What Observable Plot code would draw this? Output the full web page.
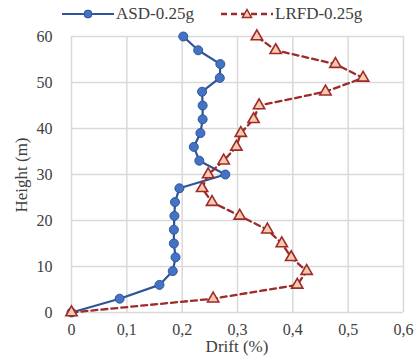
<!DOCTYPE html>
<html>
<head>
<meta charset="utf-8">
<script src="https://cdn.jsdelivr.net/npm/d3@7"></script>
<script src="https://cdn.jsdelivr.net/npm/@observablehq/plot@0.6"></script>
<style>
  html, body { margin: 0; padding: 0; background: #fff; }
  #wrap { width: 416px; height: 360px; position: relative; font-family: "Liberation Serif", "DejaVu Serif", serif; color: #404040; }
  #legend { height: 28px; position: relative; font-size: 17px; }
  .item { position: absolute; top: 4px; display: flex; align-items: center; white-space: nowrap; }
  .item svg { display: block; margin-right: 2px; }
  #chart svg, #chart svg text { font-family: "Liberation Serif", serif !important; }
  #chart svg text { font-size: 16px; fill: #404040; }
  #xlabel { position: absolute; left: 71px; width: 332px; top: 337px; text-align: center; font-size: 17px; line-height: 20px; }
  #ylabel { position: absolute; left: 22px; top: 175px; font-size: 17px; line-height: 20px; white-space: nowrap; transform: translate(-50%, -50%) rotate(-90deg); }
</style>
</head>
<body>
<div id="wrap">
  <div id="legend"></div>
  <div id="chart"></div>
  <div id="xlabel"></div>
  <div id="ylabel"></div>
</div>
<script>
// Data
const heights = [0, 3, 6, 9, 12, 15, 18, 21, 24, 27, 30, 33, 36, 39, 42, 45, 48, 51, 54, 57, 60];
const asdDrift = [0, 0.087, 0.159, 0.183, 0.188, 0.185, 0.185, 0.186, 0.187, 0.195, 0.278, 0.231, 0.221, 0.233, 0.237, 0.237, 0.236, 0.268, 0.269, 0.229, 0.202];
const lrfdDrift = [0, 0.256, 0.408, 0.425, 0.397, 0.380, 0.354, 0.304, 0.254, 0.236, 0.247, 0.275, 0.298, 0.306, 0.329, 0.339, 0.459, 0.527, 0.477, 0.369, 0.335];
const seriesNames = ["ASD-0.25g", "LRFD-0.25g"];
const xTicks = [0, 0.1, 0.2, 0.3, 0.4, 0.5, 0.6];
const yTicks = [0, 10, 20, 30, 40, 50, 60];
const xLabel = "Drift (%)";
const yLabel = "Height (m)";

const asd = heights.map((h, i) => ({h, d: asdDrift[i]}));
const lrfd = heights.map((h, i) => ({h, d: lrfdDrift[i]}));

const blueLine = "#2F5597", blueFill = "#4472C4";
const redLine = "#9E2A2B", redFill = "#F8CBAD";

const fmt = d => d === 0 ? "0" : d.toFixed(1).replace(".", ",");

const chart = Plot.plot({
  width: 416,
  height: 332,
  marginTop: 8,
  marginLeft: 71,
  marginRight: 13,
  marginBottom: 48,
  style: {fontFamily: "'Liberation Serif', serif", fontSize: "16px", color: "#404040", background: "#fff"},
  x: {domain: [0, 0.6], ticks: xTicks, tickFormat: fmt, tickSize: 0, tickPadding: 11, label: null},
  y: {domain: [0, 60], ticks: yTicks, tickSize: 0, tickPadding: 19, label: null},
  marks: [
    Plot.gridX(xTicks, {stroke: "#d9d9d9", strokeOpacity: 1, strokeWidth: 1.5}),
    Plot.gridY(yTicks, {stroke: "#d9d9d9", strokeOpacity: 1, strokeWidth: 1.5}),
    Plot.line(asd, {x: "d", y: "h", stroke: blueLine, strokeWidth: 2.2}),
    Plot.dot(asd, {x: "d", y: "h", r: 4.5, fill: blueFill, stroke: blueLine, strokeWidth: 1}),
    Plot.line(lrfd, {x: "d", y: "h", stroke: redLine, strokeWidth: 2.3, strokeDasharray: "6,4"}),
    Plot.dot(lrfd, {x: "d", y: "h", symbol: "triangle", r: 4.2, fill: redFill, stroke: redLine, strokeWidth: 1.6})
  ]
});
d3.select(chart).selectAll("text")
  .attr("font-family", "Liberation Serif")
  .style("font-family", "'Liberation Serif', serif");
document.getElementById("chart").appendChild(chart);
document.getElementById("xlabel").textContent = xLabel;
document.getElementById("ylabel").textContent = yLabel;

// Legend
const legend = document.getElementById("legend");
function addItem(left, name, kind) {
  const div = document.createElement("div");
  div.className = "item";
  div.style.left = left + "px";
  const ns = "http://www.w3.org/2000/svg";
  const s = document.createElementNS(ns, "svg");
  s.setAttribute("width", 52); s.setAttribute("height", 14);
  const l = document.createElementNS(ns, "line");
  l.setAttribute("x1", 0); l.setAttribute("x2", 52); l.setAttribute("y1", 7); l.setAttribute("y2", 7);
  if (kind === "asd") {
    l.setAttribute("stroke", blueLine); l.setAttribute("stroke-width", 2.2);
    s.appendChild(l);
    const c = document.createElementNS(ns, "circle");
    c.setAttribute("cx", 26); c.setAttribute("cy", 7); c.setAttribute("r", 4);
    c.setAttribute("fill", blueFill); c.setAttribute("stroke", blueLine);
    s.appendChild(c);
  } else {
    l.setAttribute("stroke", redLine); l.setAttribute("stroke-width", 2.3); l.setAttribute("stroke-dasharray", "6,4");
    s.appendChild(l);
    const p = document.createElementNS(ns, "path");
    p.setAttribute("d", "M26,2.5L30.5,10.5L21.5,10.5Z");
    p.setAttribute("fill", redFill); p.setAttribute("stroke", redLine); p.setAttribute("stroke-width", 1.5);
    s.appendChild(p);
  }
  div.appendChild(s);
  const t = document.createElement("span");
  t.textContent = name;
  div.appendChild(t);
  legend.appendChild(div);
}
addItem(62, seriesNames[0], "asd");
addItem(221, seriesNames[1], "lrfd");
</script>
</body>
</html>
